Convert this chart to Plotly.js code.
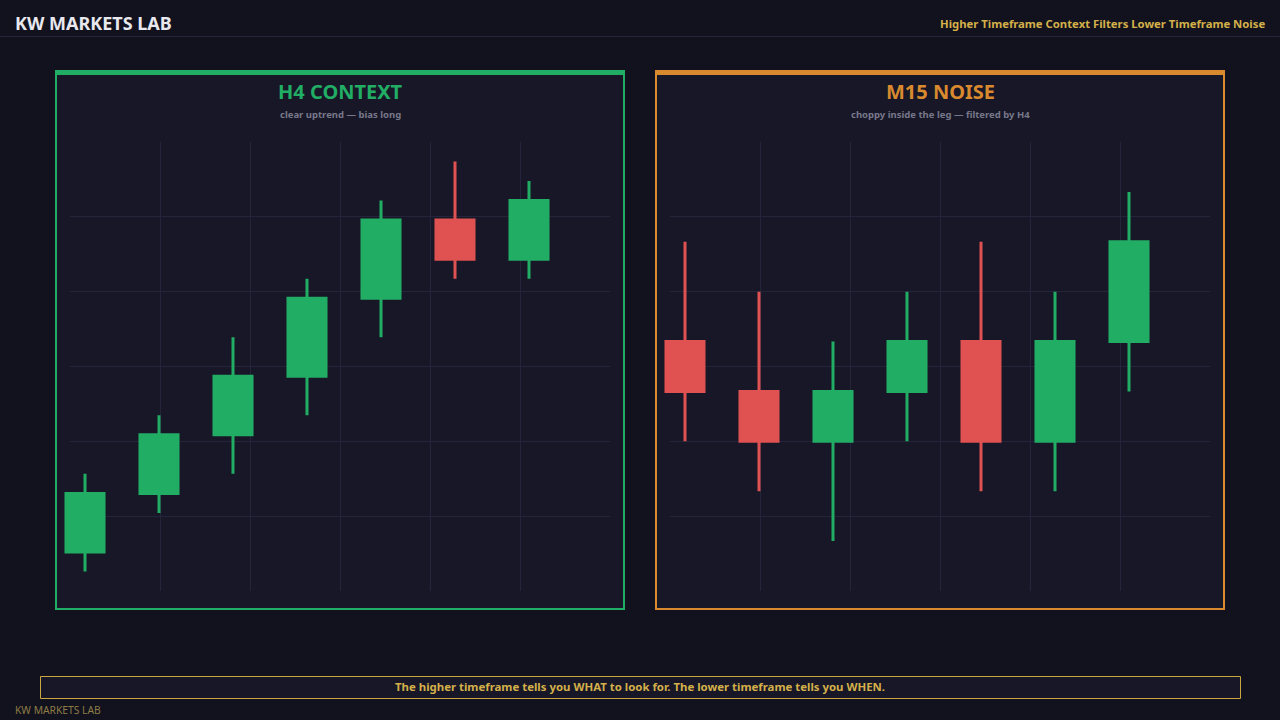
<!DOCTYPE html>
<html>
<head>
<meta charset="utf-8">
<script src="https://cdn.plot.ly/plotly-3.0.1.min.js"></script>
<style>
    html, body { margin: 0; padding: 0; background: #12121e; }
    #chart { width: 1280px; height: 720px; }
</style>
</head>
<body>
<div id="chart"></div>
<script>
// H4 context candles
const h4Bars = ["00:00", "04:00", "08:00", "12:00", "16:00", "20:00", "00:00 "];
const h4Open = [2, 5, 8, 11, 15, 19, 17];
const h4High = [6, 9, 13, 16, 20, 22, 21];
const h4Low = [1, 4, 6, 9, 13, 16, 16];
const h4Close = [5, 8, 11, 15, 19, 17, 20];

// M15 noise candles
const m15Bars = ["12:00", "12:15", "12:30", "12:45", "13:00", "13:15", "13:30"];
const m15Open = [5, 4, 3, 4, 5, 3, 5];
const m15High = [7, 6, 5, 6, 7, 6, 8];
const m15Low = [3, 2, 1, 3, 2, 2, 4];
const m15Close = [4, 3, 4, 5, 3, 5, 7];

const gridDivisions = 6;

const W = 1280, H = 720;
const GREEN = "#22ad65";
const RED = "#e05252";
const ORANGE = "#d98a2e";
const GOLD = "#d4b04a";
const PANEL_BG = "#171727";
const GRID = "#24243a";

function px(x) { return x / W; }
function py(y) { return 1 - y / H; }

function candleTrace(x, o, h, l, c, xa, ya) {
    return {
        type: "candlestick",
        x: x, open: o, high: h, low: l, close: c,
        xaxis: xa, yaxis: ya,
        increasing: { line: { color: GREEN, width: 3 }, fillcolor: GREEN },
        decreasing: { line: { color: RED, width: 3 }, fillcolor: RED },
        whiskerwidth: 0,
        showlegend: false,
        hoverinfo: "skip"
    };
}

// invisible point so the grid-only subplots get drawn
function gridTrace(xa, ya) {
    return {
        type: "scatter", mode: "markers", x: [0], y: [0],
        marker: { opacity: 0, size: 1 },
        xaxis: xa, yaxis: ya, showlegend: false, hoverinfo: "skip"
    };
}

function gridAxis(domain, anchor) {
    var vals = [];
    for (var i = 1; i < gridDivisions; i++) vals.push(i);
    return {
        domain: domain,
        anchor: anchor,
        range: [0, gridDivisions],
        autorange: false,
        tickmode: "array",
        tickvals: vals,
        showticklabels: false,
        showgrid: true,
        gridcolor: GRID,
        gridwidth: 1,
        zeroline: false,
        showline: false,
        ticks: "",
        fixedrange: true
    };
}

function candleAxis(domain, anchor, range, type) {
    return {
        domain: domain,
        anchor: anchor,
        range: range,
        autorange: false,
        type: type,
        showticklabels: false,
        showgrid: false,
        zeroline: false,
        showline: false,
        ticks: "",
        fixedrange: true
    };
}

function candleXAxis(domain, anchor) {
    var ax = candleAxis(domain, anchor, [-0.5, 6.5], "category");
    ax.rangeslider = { visible: false };
    return ax;
}

function panel(x0, x1, color) {
    return [
        { type: "rect", xref: "paper", yref: "paper", x0: px(x0 + 1), x1: px(x1 - 1), y0: py(71), y1: py(609),
          fillcolor: PANEL_BG, line: { color: color, width: 2 }, layer: "below" },
        { type: "rect", xref: "paper", yref: "paper", x0: px(x0), x1: px(x1), y0: py(70), y1: py(75),
          fillcolor: color, line: { width: 0 }, layer: "below" }
    ];
}

function label(text, x, y, size, color, anchor, weight) {
    return {
        xref: "paper", yref: "paper", x: px(x), y: py(y),
        xanchor: anchor, yanchor: "middle",
        text: text, showarrow: false,
        font: { size: size, color: color, weight: weight }
    };
}

const gridY = [py(591), py(142)];

const layout = {
    width: W,
    height: H,
    margin: { l: 0, r: 0, t: 0, b: 0 },
    paper_bgcolor: "#12121e",
    plot_bgcolor: "rgba(0,0,0,0)",
    font: { family: "Noto Sans, Open Sans, sans-serif" },
    showlegend: false,
    boxgap: 0.486,
    boxgroupgap: 0,
    xaxis: gridAxis([px(70), px(610)], "y"),
    yaxis: gridAxis(gridY, "x"),
    xaxis2: candleXAxis([px(48), px(566)], "y2"),
    yaxis2: candleAxis(gridY, "x2", [0, 23], "linear"),
    xaxis3: gridAxis([px(670), px(1210)], "y3"),
    yaxis3: gridAxis(gridY, "x3"),
    xaxis4: candleXAxis([px(648), px(1166)], "y4"),
    yaxis4: candleAxis(gridY, "x4", [0, 9], "linear"),
    shapes: [
        { type: "line", xref: "paper", yref: "paper", x0: 0, x1: 1, y0: py(36.5), y1: py(36.5),
          line: { color: "#25253a", width: 1 }, layer: "below" },
        { type: "rect", xref: "paper", yref: "paper", x0: px(40.5), x1: px(1240.5), y0: py(676.5), y1: py(698.5),
          fillcolor: PANEL_BG, line: { color: "#c9a63f", width: 1 }, layer: "below" }
    ].concat(panel(55, 625, GREEN), panel(655, 1225, ORANGE)),
    annotations: [
        label("KW MARKETS LAB", 13, 23, 18, "#e8e8ee", "left", "bold"),
        label("Higher Timeframe Context Filters Lower Timeframe Noise", 1267, 23, 11.3, GOLD, "right", "bold"),
        label("H4 CONTEXT", 340, 91, 20, GREEN, "center", "bold"),
        label("clear uptrend — bias long", 340, 115, 9.5, "#77778a", "center", "bold"),
        label("M15 NOISE", 940, 91, 20, ORANGE, "center", "bold"),
        label("choppy inside the leg — filtered by H4", 940, 115, 9.5, "#77778a", "center", "bold"),
        label("The higher timeframe tells you WHAT to look for. The lower timeframe tells you WHEN.", 640, 686, 11.4, GOLD, "center", "bold"),
        label("KW MARKETS LAB", 13, 710, 10.3, "#8c7c45", "left", "normal")
    ]
};

const data = [
    gridTrace("x", "y"),
    candleTrace(h4Bars, h4Open, h4High, h4Low, h4Close, "x2", "y2"),
    gridTrace("x3", "y3"),
    candleTrace(m15Bars, m15Open, m15High, m15Low, m15Close, "x4", "y4")
];

Plotly.newPlot("chart", data, layout, { staticPlot: true, displayModeBar: false });
</script>
</body>
</html>
